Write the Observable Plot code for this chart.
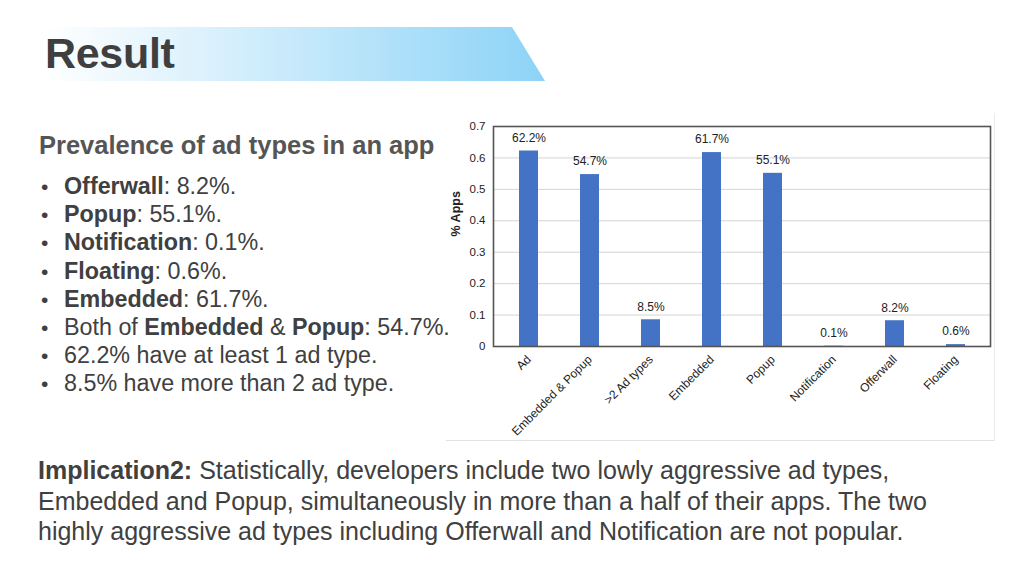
<!DOCTYPE html>
<html>
<head>
<meta charset="utf-8">
<script src="https://cdn.jsdelivr.net/npm/d3@7"></script>
<script src="https://cdn.jsdelivr.net/npm/@observablehq/plot@0.6"></script>
<style>
  html, body { margin: 0; padding: 0; background: #fff; }
  body { width: 1024px; height: 576px; position: relative; overflow: hidden; font-family: "Liberation Sans", Arial, sans-serif; }
  #banner { position: absolute; left: 0; top: 27px; width: 545px; height: 54px;
    background: linear-gradient(90deg, rgba(255,255,255,1) 8%, #d8f0fc 40%, #8dd3f7 100%);
    clip-path: polygon(0 0, 512px 0, 545px 54px, 0 54px); }
  #title { position: absolute; left: 45px; top: 29px; font-size: 43px; font-weight: bold; color: #3f3f3f; letter-spacing: -0.3px; }
  #subtitle { position: absolute; left: 39px; top: 131px; font-size: 25.5px; font-weight: bold; color: #555; white-space: nowrap; }
  #bullets { position: absolute; left: 38px; top: 172px; margin: 0; padding: 0; list-style: none; font-size: 23.3px; color: #404040; }
  #bullets li { height: 28.2px; line-height: 28px; white-space: nowrap; }
  #bullets li::before { content: "•"; display: inline-block; width: 23px; padding-left: 3px; font-size: 21px; }
  #implication { position: absolute; left: 38px; top: 455px; font-size: 25px; line-height: 30.5px; color: #404040; white-space: nowrap; }
  #chart { position: absolute; left: 446px; top: 113px; }
  #chartbox { position: absolute; left: 446px; top: 113px; width: 548px; height: 327px; border-bottom: 1px solid #e2e2e2; border-right: 1px solid #ececec; }
</style>
</head>
<body>
<div id="banner"></div>
<div id="title">Result</div>
<div id="subtitle">Prevalence of ad types in an app</div>
<ul id="bullets">
  <li><b>Offerwall</b>: 8.2%.</li>
  <li><b>Popup</b>: 55.1%.</li>
  <li><b>Notification</b>: 0.1%.</li>
  <li><b>Floating</b>: 0.6%.</li>
  <li><b>Embedded</b>: 61.7%.</li>
  <li>Both of <b>Embedded</b> &amp; <b>Popup</b>: 54.7%.</li>
  <li>62.2% have at least 1 ad type.</li>
  <li>8.5% have more than 2 ad type.</li>
</ul>
<div id="chartbox"></div>
<div id="chart"></div>
<div id="implication"><b>Implication2:</b> Statistically, developers include two lowly aggressive ad types,<br>Embedded and Popup, simultaneously in more than a half of their apps. The two<br>highly aggressive ad types including Offerwall and Notification are not popular.</div>
<script>
const categories = ["Ad", "Embedded & Popup", ">2 Ad types", "Embedded", "Popup", "Notification", "Offerwall", "Floating"];
const values = [0.622, 0.547, 0.085, 0.617, 0.551, 0.001, 0.082, 0.006];
const yTicks = [0, 0.1, 0.2, 0.3, 0.4, 0.5, 0.6, 0.7];
const yLabel = "% Apps";

const data = categories.map((c, i) => ({ category: c, value: values[i] }));
const pct = d3.format(".1%");

const plot = Plot.plot({
  width: 548,
  height: 328,
  marginLeft: 47,
  marginTop: 13,
  marginBottom: 95,
  marginRight: 4,
  style: { fontFamily: "'Liberation Sans', Arial, sans-serif", fontSize: "11.5px", color: "#222", background: "transparent" },
  x: { domain: categories, padding: 0.69, paddingOuter: 0.37, label: null },
  y: { domain: [0, 0.7], label: null },
  marks: [
    Plot.gridY(yTicks, { stroke: "#d4d4d4", strokeOpacity: 1 }),
    Plot.barY(data, { x: "category", y: "value", fill: "#4472c4" }),
    Plot.text(data, { x: "category", y: "value", text: d => pct(d.value), dy: -13, fill: "#222", fontSize: 12 }),
    Plot.axisY(yTicks, { tickFormat: d => d === 0 ? "0" : d.toFixed(1), tickSize: 0, tickPadding: 8, fontSize: 11.5, label: null }),
    Plot.axisX({ tickSize: 0, tickRotate: -45, tickPadding: 11, fontSize: 12, label: null }),
    Plot.text([yLabel], { frameAnchor: "left", rotate: -90, dx: -38, fontWeight: "bold", fontSize: 12.5, fill: "#222" }),
    Plot.frame({ stroke: "#555", strokeWidth: 1.6 })
  ]
});
document.getElementById("chart").appendChild(plot);
</script>
</body>
</html>
